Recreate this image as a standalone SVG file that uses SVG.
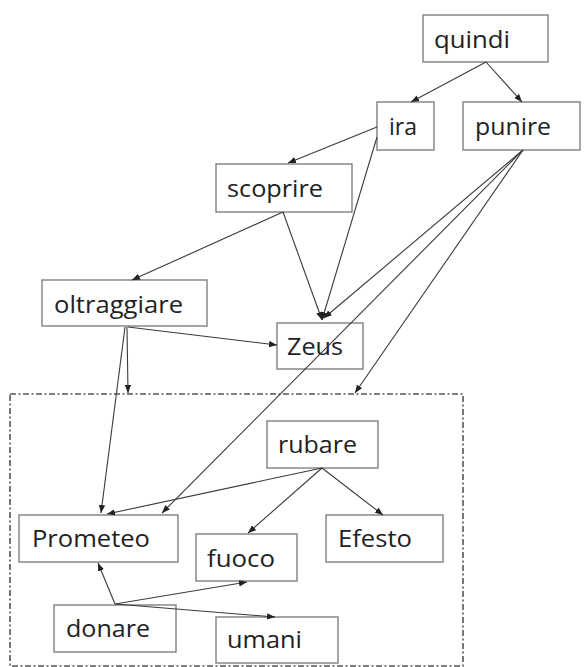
<svg xmlns="http://www.w3.org/2000/svg" width="584" height="667" viewBox="0 0 584 667">
<style>
.box{fill:#fff;stroke:#808080;stroke-width:1.4}
.lbl{font-family:"Open Sans","Liberation Sans",sans-serif;font-size:24px;fill:#222}
.edge{stroke:#3a3a3a;stroke-width:1.1;fill:none;marker-end:url(#ah)}
.frame{fill:none;stroke:#555;stroke-width:1.6;stroke-dasharray:6 2.5 2 2.5}
</style>
<defs>
<marker id="ah" viewBox="0 0 10 8" refX="10" refY="4" markerWidth="8" markerHeight="6.4" markerUnits="userSpaceOnUse" orient="auto">
<path d="M0,0 L10,4 L0,8 Z" fill="#222"/>
</marker>
</defs>
<rect class="frame" x="10" y="394" width="453" height="272"/>
<g id="quindi"><rect class="box" x="423" y="15" width="125" height="47"/><text class="lbl" x="434" y="48" textLength="76" lengthAdjust="spacingAndGlyphs">quindi</text></g>
<g id="ira"><rect class="box" x="377" y="102" width="57" height="48"/><text class="lbl" x="389" y="135" textLength="28" lengthAdjust="spacingAndGlyphs">ira</text></g>
<g id="punire"><rect class="box" x="463" y="102" width="117" height="48"/><text class="lbl" x="475" y="135" textLength="76" lengthAdjust="spacingAndGlyphs">punire</text></g>
<g id="scoprire"><rect class="box" x="216" y="164" width="136" height="48"/><text class="lbl" x="227" y="197" textLength="96" lengthAdjust="spacingAndGlyphs">scoprire</text></g>
<g id="oltraggiare"><rect class="box" x="42" y="280" width="165" height="46"/><text class="lbl" x="54" y="313" textLength="129" lengthAdjust="spacingAndGlyphs">oltraggiare</text></g>
<g id="Zeus"><rect class="box" x="277" y="323" width="86" height="46"/><text class="lbl" x="287" y="355" textLength="56" lengthAdjust="spacingAndGlyphs">Zeus</text></g>
<g id="rubare"><rect class="box" x="267" y="421" width="111" height="47"/><text class="lbl" x="278" y="453" textLength="79" lengthAdjust="spacingAndGlyphs">rubare</text></g>
<g id="Prometeo"><rect class="box" x="19" y="515" width="159" height="47"/><text class="lbl" x="32" y="547" textLength="118" lengthAdjust="spacingAndGlyphs">Prometeo</text></g>
<g id="fuoco"><rect class="box" x="196" y="534" width="101" height="47"/><text class="lbl" x="207" y="567" textLength="68" lengthAdjust="spacingAndGlyphs">fuoco</text></g>
<g id="Efesto"><rect class="box" x="326" y="515" width="117" height="47"/><text class="lbl" x="338" y="547" textLength="74" lengthAdjust="spacingAndGlyphs">Efesto</text></g>
<g id="donare"><rect class="box" x="54" y="605" width="122" height="47"/><text class="lbl" x="66" y="637" textLength="84" lengthAdjust="spacingAndGlyphs">donare</text></g>
<g id="umani"><rect class="box" x="216" y="617" width="122" height="46"/><text class="lbl" x="227" y="648" textLength="75" lengthAdjust="spacingAndGlyphs">umani</text></g>
<g id="connectors">
<line class="edge" x1="486" y1="62" x2="411" y2="102"/>
<line class="edge" x1="486" y1="62" x2="522" y2="102"/>
<line class="edge" x1="377" y1="127" x2="288" y2="163"/>
<line class="edge" x1="377" y1="137" x2="322" y2="320"/>
<line class="edge" x1="283" y1="212" x2="132" y2="280"/>
<line class="edge" x1="283" y1="212" x2="322" y2="320"/>
<line class="edge" x1="523" y1="150" x2="324" y2="318"/>
<line class="edge" x1="523" y1="150" x2="162" y2="513"/>
<line class="edge" x1="523" y1="150" x2="355" y2="393"/>
<line class="edge" x1="128" y1="327" x2="277" y2="345"/>
<line class="edge" x1="125" y1="327" x2="101" y2="513"/>
<line class="edge" x1="127" y1="327" x2="128" y2="393"/>
<line class="edge" x1="322" y1="468" x2="107" y2="514"/>
<line class="edge" x1="322" y1="468" x2="248" y2="533"/>
<line class="edge" x1="322" y1="468" x2="383" y2="515"/>
<line class="edge" x1="115" y1="604" x2="98" y2="563"/>
<line class="edge" x1="115" y1="604" x2="247" y2="582"/>
<line class="edge" x1="115" y1="604" x2="275" y2="617"/>
</g>
</svg>
